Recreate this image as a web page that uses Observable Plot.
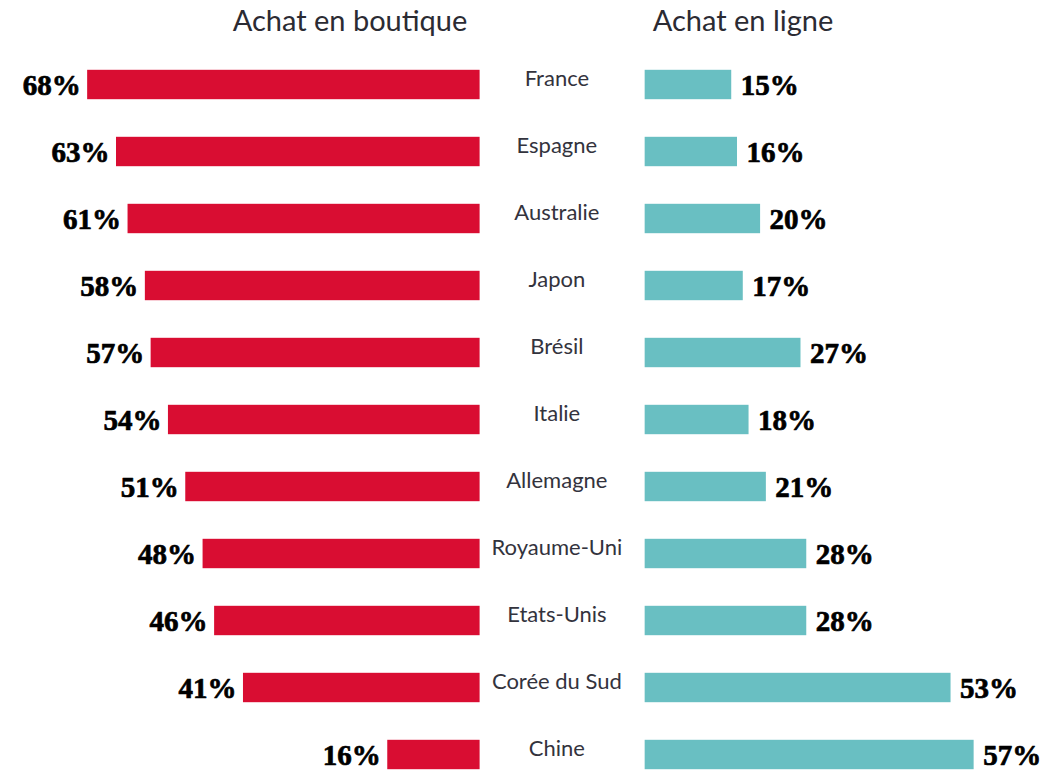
<!DOCTYPE html>
<html>
<head>
<meta charset="utf-8">
<script src="https://cdn.jsdelivr.net/npm/d3@7"></script>
<script src="https://cdn.jsdelivr.net/npm/@observablehq/plot@0.6"></script>
<style>
  html, body { margin: 0; padding: 0; background: #fff; }
  #wrap { position: relative; width: 1040px; height: 777px; overflow: hidden; }
  .hdr { position: absolute; top: 2px; font-family: Lato, "Open Sans", sans-serif; font-size: 29px; color: #2b2b33; white-space: nowrap; transform: translateX(-50%); }
  #chart { position: absolute; top: 50px; left: 0; }
</style>
</head>
<body>
<div id="wrap">
  <div class="hdr" id="h1" style="left:350px">Achat en boutique</div>
  <div class="hdr" id="h2" style="left:743px">Achat en ligne</div>
  <div id="chart"></div>
</div>
<script>
const countries = ["France", "Espagne", "Australie", "Japon", "Brésil", "Italie", "Allemagne", "Royaume-Uni", "Etats-Unis", "Corée du Sud", "Chine"];
const boutique = [68, 63, 61, 58, 57, 54, 51, 48, 46, 41, 16];
const enLigne = [15, 16, 20, 17, 27, 18, 21, 28, 28, 53, 57];

const G = 14.3; // half gap between the two sides, in percent units
const rows = countries.map((c, i) => ({country: c, store: boutique[i], online: enLigne[i]}));

const pctFont = {fontFamily: "'Liberation Serif', 'DejaVu Serif', serif", fontWeight: 900, fontSize: 29, fill: "#000", stroke: "#000", strokeWidth: 0.7};

const chart = Plot.plot({
  width: 1040,
  height: 727,
  marginTop: 0, marginBottom: 0, marginLeft: 0, marginRight: 0,
  x: {domain: [-97.4, 82.8], range: [0, 1040], axis: null},
  y: {domain: countries, range: [-1.8, 741.8], padding: 0, axis: null},
  marks: [
    Plot.barX(rows, {y: "country", x1: d => -(d.store + G), x2: -G, fill: "#d90d32", insetTop: 18.8, insetBottom: 18.8}),
    Plot.barX(rows, {y: "country", x1: G, x2: d => d.online + G, fill: "#69bfc2", insetTop: 18.8, insetBottom: 18.8}),
    Plot.text(rows, {y: "country", x: d => -(d.store + G), text: d => d.store + "%", textAnchor: "end", dx: -7, dy: 1, ...pctFont}),
    Plot.text(rows, {y: "country", x: d => d.online + G, text: d => d.online + "%", textAnchor: "start", dx: 9, dy: 1, ...pctFont}),
    Plot.text(rows, {y: "country", x: () => -1, text: "country", textAnchor: "middle", dy: -6, fontFamily: "Lato, 'Open Sans', sans-serif", fontSize: 22, fill: "#33333d"})
  ]
});
document.getElementById("chart").appendChild(chart);
</script>
</body>
</html>
